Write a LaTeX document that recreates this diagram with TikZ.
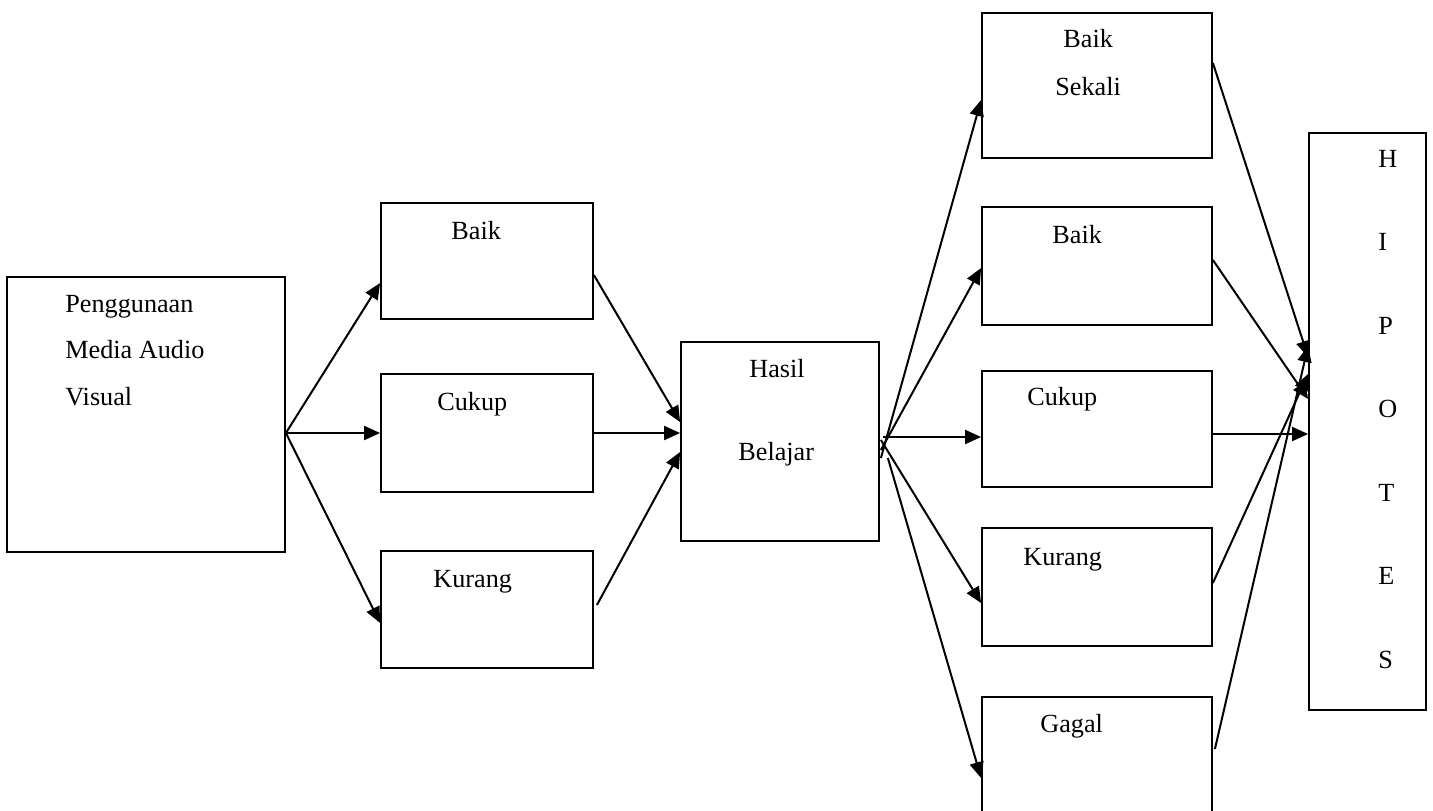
\documentclass[tikz,border=0pt]{standalone}
\usepackage{fontspec}
\setmainfont{Liberation Serif}
\usetikzlibrary{arrows.meta}
\tikzset{
  stagebox/.style={draw=black,line width=0.9pt,inner sep=0pt},
  boxtext/.style={anchor=base west,inner sep=0pt,font=\fontsize{13.1}{16}\selectfont},
  linkarr/.style={-{Triangle[length=8pt,width=7pt]},line width=1pt}
}

\begin{document}
\begin{tikzpicture}[x=0.5pt,y=-0.5pt]
  \clip (0,0) rectangle (1433,810);
  % boxes
  \node[stagebox,minimum width=139pt,minimum height=137.5pt] (peng) at (146,414.5) {};
  \node[stagebox,minimum width=106pt,minimum height=58pt] (lbaik) at (487,261) {};
  \node[stagebox,minimum width=106pt,minimum height=59pt] (lcukup) at (487,433) {};
  \node[stagebox,minimum width=106pt,minimum height=58.5pt] (lkurang) at (487,609.5) {};
  \node[stagebox,minimum width=99pt,minimum height=99.5pt] (hasil) at (780,441.5) {};
  \node[stagebox,minimum width=115pt,minimum height=72.5pt] (rsekali) at (1097,85.5) {};
  \node[stagebox,minimum width=115pt,minimum height=59pt] (rbaik) at (1097,266) {};
  \node[stagebox,minimum width=115pt,minimum height=58pt] (rcukup) at (1097,429) {};
  \node[stagebox,minimum width=115pt,minimum height=59pt] (rkurang) at (1097,587) {};
  \node[stagebox,minimum width=115pt,minimum height=59pt] (rgagal) at (1097,756) {};
  \node[stagebox,minimum width=58.5pt,minimum height=288.5pt] (hipo) at (1367.5,421.5) {};
  % texts
  \node[boxtext] (tpeng) at (65,312) {Penggunaan};
  \node[boxtext] (tmedia) at (65,358) {Media Audio};
  \node[boxtext] (tvisual) at (65,405) {Visual};
  \node[boxtext] (tlbaik) at (451,239) {Baik};
  \node[boxtext] (tlcukup) at (437,410) {Cukup};
  \node[boxtext] (tlkurang) at (433,587) {Kurang};
  \node[boxtext] (thasil) at (749,377) {Hasil};
  \node[boxtext] (tbelajar) at (738,460) {Belajar};
  \node[boxtext] (trbaik1) at (1063,47) {Baik};
  \node[boxtext] (tsekali) at (1055,95) {Sekali};
  \node[boxtext] (trbaik) at (1052,243) {Baik};
  \node[boxtext] (trcukup) at (1027,405) {Cukup};
  \node[boxtext] (trkurang) at (1023,565) {Kurang};
  \node[boxtext] (tgagal) at (1040,732) {Gagal};
  \node[boxtext] (th) at (1378,167) {H};
  \node[boxtext] (ti) at (1378,250.5) {I};
  \node[boxtext] (tp) at (1378,334) {P};
  \node[boxtext] (to) at (1378,417.5) {O};
  \node[boxtext] (tt) at (1378,501) {T};
  \node[boxtext] (te) at (1378,584.5) {E};
  \node[boxtext] (ts) at (1378,668) {S};
  % media -> categories
  \draw[linkarr] (peng.east |- lcukup.west) -- ([yshift=-11pt]lbaik.west);
  \draw[linkarr] (peng.east |- lcukup.west) -- (lcukup.west);
  \draw[linkarr] (peng.east |- lcukup.west) -- ([yshift=-6.75pt]lkurang.west);
  % categories -> hasil belajar
  \draw[linkarr] ([yshift=-7pt]lbaik.east) -- ([yshift=9.75pt]hasil.west);
  \draw[linkarr] (lcukup.east) -- ([yshift=4.25pt]hasil.west);
  \draw[linkarr] ([xshift=1.5pt,yshift=2.25pt]lkurang.east) -- ([yshift=-5.25pt]hasil.west);
  % hasil belajar -> grades
  \draw[linkarr] ([xshift=0.5pt,yshift=-8.25pt]hasil.east) -- ([yshift=-7.25pt]rsekali.west);
  \draw[linkarr] ([xshift=0.5pt,yshift=-4.25pt]hasil.east) -- ([yshift=-1pt]rbaik.west);
  \draw[linkarr] ([xshift=1.5pt,yshift=2.25pt]hasil.east) -- ([yshift=-4pt]rcukup.west);
  \draw[linkarr] ([xshift=0.5pt,yshift=0.75pt]hasil.east) -- ([yshift=-8pt]rkurang.west);
  \draw[linkarr] ([xshift=4pt,yshift=-8.25pt]hasil.east) -- ([yshift=-11pt]rgagal.west);
  % grades -> hipotesis
  \draw[linkarr] ([yshift=11.25pt]rsekali.east) -- ([yshift=32.25pt]hipo.west);
  \draw[linkarr] ([yshift=3pt]rbaik.east) -- ([yshift=11.25pt]hipo.west);
  \draw[linkarr] ([yshift=-2.5pt]rcukup.east) -- ([yshift=-6.25pt]hipo.west);
  \draw[linkarr] ([yshift=2pt]rkurang.east) -- ([yshift=23.75pt]hipo.west);
  \draw[linkarr] ([xshift=1pt,yshift=3.5pt]rgagal.east) -- ([yshift=37.75pt]hipo.west);
\end{tikzpicture}
\end{document}
